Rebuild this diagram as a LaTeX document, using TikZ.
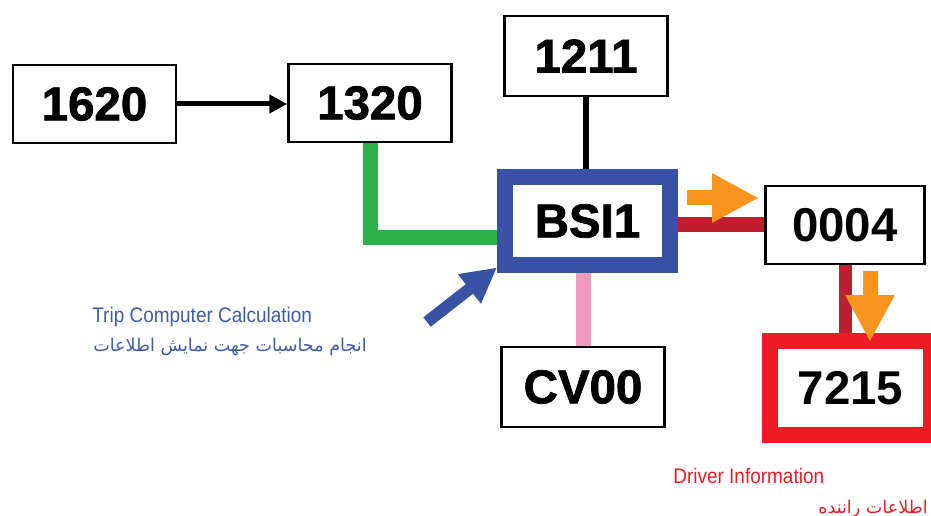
\documentclass[tikz,border=0pt]{standalone}
\usepackage{fontspec}
\setmainfont{Liberation Sans}
\newfontfamily\narrowfont[FakeStretch=0.9]{Liberation Sans}
\newfontfamily\heavyfont[BoldFeatures={FakeBold=1.6}]{Liberation Sans}
\newfontfamily\arabicfont[Script=Arabic]{DejaVu Sans}
\TeXXeTstate=1
\usetikzlibrary{arrows.meta}

\definecolor{bsiblue}{RGB}{57,83,164}
\definecolor{noteblue}{RGB}{63,91,169}
\definecolor{busred}{RGB}{190,30,45}
\definecolor{alarmred}{RGB}{237,28,36}
\definecolor{flowgold}{RGB}{247,148,29}
\definecolor{buspink}{RGB}{244,154,193}
\definecolor{busgreen}{RGB}{43,176,74}

\begin{document}
\begin{tikzpicture}[x=0.02cm, y=-0.02cm,
    ecu/.style={draw, line width=0.05cm, fill=white, inner sep=0pt,
        minimum width=3.26cm, minimum height=1.57cm,
        font=\fontsize{27}{30}\selectfont\bfseries},
    heavy/.style={font=\heavyfont\fontsize{27}{30}\selectfont\bfseries},
    flow/.style={flowgold, line width=0.3cm, -{Triangle[length=0.94cm,width=0.92cm]}},
    note/.style={inner sep=0pt, font=\narrowfont\fontsize{12}{14}\selectfont}]
        \useasboundingbox (0,0) rectangle (931,516);

        % ==== ECU BOXES ====
        \node[ecu, heavy] (n1620) at (94.5,104) {1620};
        \node[ecu, heavy] (n1320) at (370,103) {1320};
        \node[ecu, heavy, minimum height=1.6cm] (n1211) at (586,56) {1211};
        \node[ecu, heavy, draw=bsiblue, line width=0.32cm, minimum width=3.3cm,
            minimum height=1.78cm] (bsi) at (587.5,221) {BSI1};
        \node[ecu, minimum width=3.18cm] (n0004) at (845,225) {0004};
        \node[ecu, heavy, minimum height=1.6cm] (cv00) at (583,387) {CV00};
        \node[ecu, draw=alarmred, line width=0.32cm, minimum width=3.22cm,
            minimum height=1.88cm] (n7215) at (850.5,388) {7215};

        % ==== BUS LINES ====
        \draw[-{Triangle[length=0.36cm,width=0.36cm]}, line width=0.1cm]
            (n1620.east) -- (n1620.east -| n1320.west);
        \draw[busgreen, line width=0.3cm] (n1320.south) |- ([yshift=-0.34cm]bsi.west);
        \draw[line width=0.12cm] (n1211.south) -- (n1211.south |- bsi.north);
        \draw[buspink, line width=0.3cm] (cv00.north) -- (cv00.north |- bsi.south);
        \draw[busred, line width=0.3cm] (n0004.west) -- (n0004.west -| bsi.east);
        \draw[busred, line width=0.26cm] (n0004.south) -- (n0004.south |- n7215.north);

        % ==== DATA FLOW ====
        \coordinate (flowA) at (687,198);
        \coordinate (flowB) at (759,198);
        \coordinate (flowC) at (870,271);
        \coordinate (flowD) at (870,342);
        \draw[flow] (flowA) -- (flowB);
        \draw[flow] (flowC) -- (flowD);
        \coordinate (tripTail) at (427,322);
        \draw[bsiblue, line width=0.24cm, -{Triangle[length=0.7cm,width=0.7cm]}]
            (tripTail) -- ([yshift=0.12cm]bsi.south west);

        % ==== NOTES ====
        \node[note, noteblue, anchor=base west] (tripEn) at (92,323) {Trip Computer Calculation};
        \node[note, noteblue, anchor=base east] (tripFa) at (367,352)
            {\arabicfont\fontsize{10}{12}\selectfont\beginR انجام محاسبات جهت نمایش اطلاعات\endR};
        \node[note, alarmred, anchor=base west] (driverEn) at (673,484) {Driver Information};
        \node[note, alarmred, anchor=base east] (driverFa) at (928,514)
            {\arabicfont\fontsize{10}{12}\selectfont\beginR اطلاعات راننده\endR};
\end{tikzpicture}
\end{document}
